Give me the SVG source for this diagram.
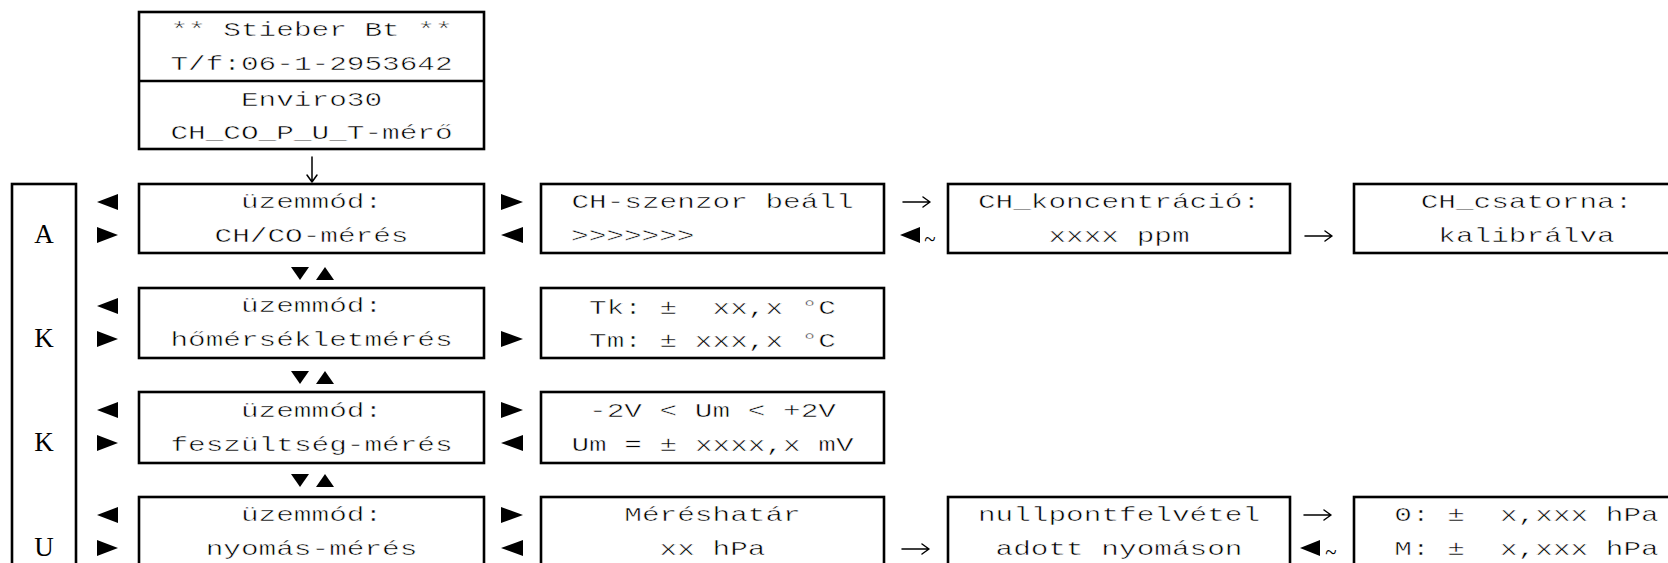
<svg xmlns="http://www.w3.org/2000/svg" width="1668" height="563" viewBox="0 0 1668 563">
<style>
.box{fill:#fff;stroke:#000;stroke-width:2.6}
.t{font-family:"Liberation Mono",monospace;font-size:21px;fill:#000;stroke:#fff;stroke-width:0.5;white-space:pre;text-anchor:middle}
.ts{font-family:"Liberation Mono",monospace;font-size:21px;fill:#000;stroke:#fff;stroke-width:0.5;white-space:pre;text-anchor:start}
.s{font-family:"Liberation Serif",serif;font-size:27px;fill:#000;text-anchor:middle}
.tl{font-family:"Liberation Serif",serif;font-size:21px;fill:#000;text-anchor:middle}
.tri{fill:#000}
.arr{fill:none;stroke:#000;stroke-width:1.5;stroke-linecap:round;stroke-linejoin:round}
</style>
<defs>
<path id="rarr" class="arr" d="M0,0 H27 M20,-5 L27,0 L20,5"/>
</defs>
<rect x="0" y="0" width="1668" height="563" fill="#fff"/>
<g id="header">
<rect class="box" x="139" y="12" width="345" height="137"/>
<line x1="139" y1="81" x2="484" y2="81" stroke="#000" stroke-width="2.6"/>
<text class="t" transform="translate(311.5,36) scale(1.4,1)">** Stieber Bt **</text>
<text class="t" transform="translate(311.5,70) scale(1.4,1)">T/f:06-1-2953642</text>
<text class="t" transform="translate(311.5,106) scale(1.4,1)">Enviro30</text>
<text class="t" transform="translate(311.5,139) scale(1.4,1)">CH_CO_P_U_T-mérő</text>
</g>
<g id="akku">
<rect class="box" x="12" y="184" width="64" height="420"/>
<text class="s" x="44" y="243">A</text>
<text class="s" x="44" y="347">K</text>
<text class="s" x="44" y="451">K</text>
<text class="s" x="44" y="556">U</text>
</g>
<g id="mode-ch">
<rect class="box" x="139" y="184" width="345" height="69"/>
<text class="t" transform="translate(311.5,208) scale(1.4,1)">üzemmód:</text>
<text class="t" transform="translate(311.5,242) scale(1.4,1)">CH/CO-mérés</text>
</g>
<g id="mode-temp">
<rect class="box" x="139" y="288" width="345" height="70"/>
<text class="t" transform="translate(311.5,312) scale(1.4,1)">üzemmód:</text>
<text class="t" transform="translate(311.5,346) scale(1.4,1)">hőmérsékletmérés</text>
</g>
<g id="mode-volt">
<rect class="box" x="139" y="392" width="345" height="71"/>
<text class="t" transform="translate(311.5,417) scale(1.4,1)">üzemmód:</text>
<text class="t" transform="translate(311.5,451) scale(1.4,1)">feszültség-mérés</text>
</g>
<g id="mode-press">
<rect class="box" x="139" y="497" width="345" height="100"/>
<text class="t" transform="translate(311.5,521) scale(1.4,1)">üzemmód:</text>
<text class="t" transform="translate(311.5,555) scale(1.4,1)">nyomás-mérés</text>
</g>
<g id="ch-sensor">
<rect class="box" x="541" y="184" width="343" height="69"/>
<text class="t" transform="translate(712.5,208) scale(1.4,1)">CH-szenzor beáll</text>
<text class="ts" transform="translate(571,242) scale(1.4,1)">&gt;&gt;&gt;&gt;&gt;&gt;&gt;</text>
</g>
<g id="temp-values">
<rect class="box" x="541" y="288" width="343" height="70"/>
<text class="t" transform="translate(712.5,314) scale(1.4,1)">Tk: ±  xx,x °C</text>
<text class="t" transform="translate(712.5,347) scale(1.4,1)">Tm: ± xxx,x °C</text>
</g>
<g id="volt-values">
<rect class="box" x="541" y="392" width="343" height="71"/>
<text class="t" transform="translate(712.5,417) scale(1.4,1)">-2V &lt; Um &lt; +2V</text>
<text class="t" transform="translate(712.5,451) scale(1.4,1)">Um = ± xxxx,x mV</text>
</g>
<g id="press-range">
<rect class="box" x="541" y="497" width="343" height="100"/>
<text class="t" transform="translate(712.5,521) scale(1.4,1)">Méréshatár</text>
<text class="t" transform="translate(712.5,555) scale(1.4,1)">xx hPa</text>
</g>
<g id="ch-conc">
<rect class="box" x="948" y="184" width="342" height="69"/>
<text class="t" transform="translate(1119,208) scale(1.4,1)">CH_koncentráció:</text>
<text class="t" transform="translate(1119,242) scale(1.4,1)">xxxx ppm</text>
</g>
<g id="press-zero">
<rect class="box" x="948" y="497" width="342" height="100"/>
<text class="t" transform="translate(1119,521) scale(1.4,1)">nullpontfelvétel</text>
<text class="t" transform="translate(1119,555) scale(1.4,1)">adott nyomáson</text>
</g>
<g id="ch-cal">
<rect class="box" x="1354" y="184" width="345" height="69"/>
<text class="t" transform="translate(1526.5,208) scale(1.4,1)">CH_csatorna:</text>
<text class="t" transform="translate(1526.5,242) scale(1.4,1)">kalibrálva</text>
</g>
<g id="press-values">
<rect class="box" x="1354" y="497" width="345" height="100"/>
<text class="t" transform="translate(1526.5,521) scale(1.4,1)">0: ±  x,xxx hPa</text>
<text class="t" transform="translate(1526.5,555) scale(1.4,1)">M: ±  x,xxx hPa</text>
</g>
<g id="connectors">
<path class="arr" d="M312,157 V182 M307,175 L312,182 L317,175"/>
<polygon class="tri" points="97,202 118,194 118,210"/>
<polygon class="tri" points="97,227 97,243 118,235"/>
<polygon class="tri" points="97,306 118,298 118,314"/>
<polygon class="tri" points="97,331 97,347 118,339"/>
<polygon class="tri" points="97,410 118,402 118,418"/>
<polygon class="tri" points="97,435 97,451 118,443"/>
<polygon class="tri" points="97,515 118,507 118,523"/>
<polygon class="tri" points="97,540 97,556 118,548"/>
<polygon class="tri" points="291,267 309,267 300,280"/>
<polygon class="tri" points="316,280 334,280 325,267"/>
<polygon class="tri" points="291,371 309,371 300,384"/>
<polygon class="tri" points="316,384 334,384 325,371"/>
<polygon class="tri" points="291,474 309,474 300,487"/>
<polygon class="tri" points="316,487 334,487 325,474"/>
<polygon class="tri" points="501,194 501,210 523,202"/>
<polygon class="tri" points="523,227 523,243 501,235"/>
<polygon class="tri" points="501,331 501,347 523,339"/>
<polygon class="tri" points="501,402 501,418 523,410"/>
<polygon class="tri" points="523,435 523,451 501,443"/>
<polygon class="tri" points="501,507 501,523 523,515"/>
<polygon class="tri" points="523,540 523,556 501,548"/>
<use href="#rarr" x="903" y="202"/>
<polygon class="tri" points="900,235 920,227 920,243"/>
<text class="tl" x="930" y="246">~</text>
<use href="#rarr" x="1305" y="236"/>
<use href="#rarr" x="902" y="549"/>
<use href="#rarr" x="1304" y="515"/>
<polygon class="tri" points="1300,548 1320,540 1320,556"/>
<text class="tl" x="1331" y="559">~</text>
</g>
</svg>
